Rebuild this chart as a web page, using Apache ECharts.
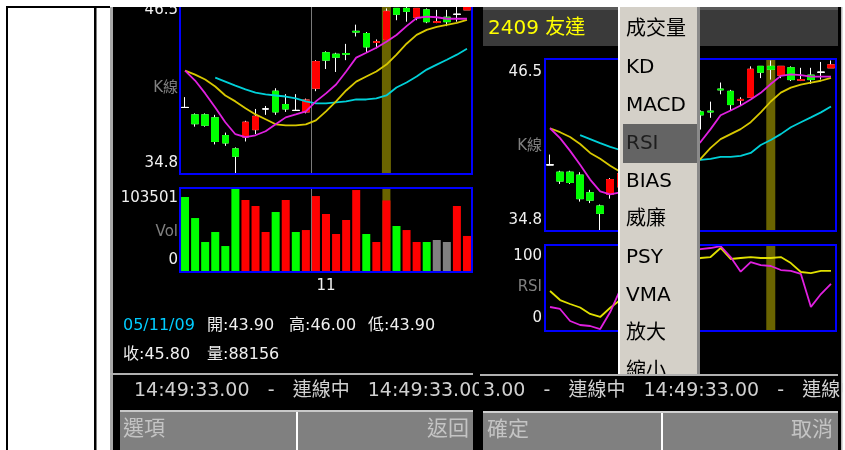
<!DOCTYPE html>
<html><head><meta charset="utf-8">
<script src="https://cdn.jsdelivr.net/npm/echarts@6/dist/echarts.min.js"></script>
<style>html,body{margin:0;padding:0;background:#fff}#c{width:845px;height:450px}</style>
</head><body><div id="c"></div>
<script>
// ---------- data ----------
const dates = ['05/10/12','05/10/13','05/10/14','05/10/17','05/10/18','05/10/19','05/10/20','05/10/21','05/10/24','05/10/25','05/10/26','05/10/27','05/10/28','05/10/31','05/11/01','05/11/02','05/11/03','05/11/04','05/11/07','05/11/08','05/11/09','05/11/10','05/11/11','05/11/14','05/11/15','05/11/16','05/11/17','05/11/18','05/11/21'];
const opens  = [39.3,38.8,38.8,38.6,37.4,36.5,37.3,37.8,39.2,40.4,39.5,39.1,39.0,40.6,43.0,42.9,42.95,44.45,44.3,43.7,43.9,46.0,46.0,45.4,45.9,45.05,45.4,45.6,45.9];
const closes = [39.3,38.2,38.1,37.0,36.9,36.0,38.3,38.7,39.2,39.0,39.2,39.1,39.8,42.4,42.5,42.7,42.9,44.4,43.4,43.75,45.8,45.6,45.8,46.0,45.1,45.1,45.1,45.6,46.1];
const lows   = [39.3,38.0,38.0,36.8,36.7,34.8,37.0,37.5,38.8,38.8,39.0,39.1,38.9,40.4,41.9,41.7,42.5,44.1,43.0,43.3,43.9,45.2,45.1,45.2,45.0,45.0,44.8,45.1,45.9];
const highs  = [40.0,38.9,38.9,38.8,37.6,36.6,38.4,39.2,39.4,40.6,40.2,40.2,39.9,42.5,43.1,43.0,43.6,44.9,44.4,43.9,46.0,46.0,46.4,46.0,46.0,45.9,45.9,46.3,46.4];
const volumes = [92400,66500,37000,49300,32000,103501,88700,81300,49300,73900,88700,49300,51700,93600,71500,46800,64100,101000,46800,37000,88156,56700,51700,37000,37000,39400,37000,81300,44400];
const prevClose = 39.8;
const ma5  = [41.79,41.12,40.25,39.30,38.30,37.49,37.29,37.42,37.69,38.16,38.63,38.83,39.04,39.71,40.25,40.85,41.73,42.67,43.0,43.34,43.75,44.2,44.8,45.35,45.45,45.4,45.3,45.3,45.3];
const ma10 = [41.79,41.52,41.19,40.72,40.11,39.71,39.24,38.83,38.50,38.16,38.09,38.09,38.16,38.43,39.04,39.71,40.45,41.05,41.39,41.73,42.20,42.87,43.61,44.21,44.55,44.75,44.89,45.02,45.22];
const ma20 = [null,null,null,41.32,41.05,40.78,40.52,40.31,40.18,40.11,40.04,39.91,39.71,39.57,39.57,39.64,39.71,39.84,39.84,39.91,40.11,40.65,40.99,41.39,41.86,42.20,42.53,42.87,43.27];
const rsi6  = [27.9,25.6,11.6,7.0,5.8,2.3,22,48,62,55,60,58,70,88,90,95.3,96.5,98.8,86,69,80.2,76.7,75.6,70.9,69.8,66.3,28,43,54.7];
const rsi12 = [46.5,36.0,31.4,27.3,19.8,16.3,27,36,45,48,52,51,58,70,78,84.9,86,96.5,83.7,84.9,86,84.9,84.9,86,79,68.6,67.4,69.8,69.8];
const priceMin = 34.8, priceMax = 46.5;
const priceTickLabels = ['46.5','34.8'];
const volMax = 103501;
const volTickLabels = ['103501','0'];
const rsiMin = 0, rsiMax = 100;
const rsiTickLabels = ['100','0'];
const leftCursor = 20, rightCursor = 22;
const menuItems = ['成交量','KD','MACD','RSI','BIAS','威廉','PSY','VMA','放大','縮小'];
const menuSelected = 3;
const stockTitle = '2409 友達';
const statusTime = '14:49:33.00', statusState = '連線中';
const leftButtons = ['選項','返回'], rightButtons = ['確定','取消'];

// ---------- chart ----------
const FONT = '"DejaVu Sans", "Noto Sans CJK TC", sans-serif';
const chart = echarts.init(document.getElementById('c'));
const wickData = dates.map((d,i)=>[opens[i],closes[i],lows[i],highs[i]]);
const bodyData = dates.map((d,i)=>[opens[i],closes[i],Math.min(opens[i],closes[i]),Math.max(opens[i],closes[i])]);
const cursorData = (idx, top) => dates.map((d,i)=> i===idx ? top : '-');
const monthStart = dates.findIndex(d => d.slice(3,5) !== dates[0].slice(3,5));
const volColor = p => { const i=p.dataIndex; const pc = i===0?prevClose:closes[i-1];
  return closes[i]>pc?'#ff0000':(closes[i]<pc?'#00ff00':'#808080'); };

const OLIVE = '#6a6400';
function xCat(g, extra) {
  return Object.assign({type:'category', gridIndex:g, data:dates, boundaryGap:true,
    axisLine:{show:false}, axisTick:{show:false}, axisLabel:{show:false}, splitLine:{show:false}}, extra||{});
}
const sepLine = {show:true, interval:(i)=> i===0 || i===monthStart-1, showMinLine:false, showMaxLine:false,
  lineStyle:{color:'#7a7a7a', width:1}};
function yVal(g, min, max) { return {type:'value', gridIndex:g, min, max, show:false, startValue:min}; }
const gridStyle = {show:true, borderColor:'#0000ff', borderWidth:2, backgroundColor:'rgba(0,0,0,0)', z:10, containLabel:false};

function priceSeries(ax, cursor) {
  return [
    {type:'bar', xAxisIndex:ax, yAxisIndex:ax, data:cursorData(cursor, priceMax), barWidth:9, itemStyle:{color:OLIVE}, z:1, silent:true},
    {type:'candlestick', xAxisIndex:ax, yAxisIndex:ax, data:wickData, barWidth:7, z:3,
      itemStyle:{color:'rgba(0,0,0,0)', color0:'rgba(0,0,0,0)', borderColor:'#ffffff', borderColor0:'#ffffff', borderColorDoji:'#ffffff', borderWidth:1}},
    {type:'candlestick', xAxisIndex:ax, yAxisIndex:ax, data:bodyData, barWidth:7, z:4,
      itemStyle:{color:'#ff0000', color0:'#00ff00', borderColor:'#ff0000', borderColor0:'#00ff00', borderColorDoji:'#ffffff', borderWidth:1}},
    {type:'line', xAxisIndex:ax, yAxisIndex:ax, data:ma20, symbol:'none', lineStyle:{color:'#00d0d8', width:1.8}, z:5},
    {type:'line', xAxisIndex:ax, yAxisIndex:ax, data:ma10, symbol:'none', lineStyle:{color:'#d8c800', width:1.8}, z:5},
    {type:'line', xAxisIndex:ax, yAxisIndex:ax, data:ma5, symbol:'none', lineStyle:{color:'#e020e0', width:1.8}, z:6}
  ];
}

// graphic helpers
const G = [];
const R = (x,y,w,h,fill,z) => G.push({type:'rect', shape:{x,y,width:w,height:h}, style:{fill}, z, silent:true});
const T = (x,y,text,size,fill,z,align) => G.push({type:'text', x, y, z, silent:true,
  style:{text, font: size+'px '+FONT, fill, align:align||'left', verticalAlign:'middle', textAlign:align||'left', textVerticalAlign:'middle'}});

// page / frames
R(6,6,104,2,'#000',101);
R(6,6,2,444,'#000',101);
R(94,6,2.5,444,'#000',101);
R(110,7,3,443,'#a8a8a8',-10);
R(113,7,366,443,'#000',-10);
R(479,7,362,443,'#000',-9);
R(841,0,1.5,450,'#b8b8b8',61);
R(842.5,0,3,450,'#fff',60);
R(0,0,845,6,'#fff',100);
R(110,6,735,1,'#fff',100);

// left screen labels
T(178,10,priceTickLabels[0],15,'#f0f0f0',5,'right');
T(178,88,'K線',15,'#808080',5,'right');
T(178,163,priceTickLabels[1],15,'#f0f0f0',5,'right');
T(178,198,volTickLabels[0],15,'#f0f0f0',5,'right');
T(178,232,'Vol',15,'#808080',5,'right');
T(178,260,volTickLabels[1],15,'#f0f0f0',5,'right');
const hl = leftCursor;
T(123,326,dates[hl],16,'#00ccff',5);
T(207,326,'開:'+opens[hl].toFixed(2),16,'#f0f0f0',5);
T(289,326,'高:'+highs[hl].toFixed(2),16,'#f0f0f0',5);
T(368,326,'低:'+lows[hl].toFixed(2),16,'#f0f0f0',5);
T(123,355,'收:'+closes[hl].toFixed(2),16,'#f0f0f0',5);
T(207,355,'量:'+volumes[hl],16,'#f0f0f0',5);
const marquee = (statusTime+'   -   '+statusState+'   ').repeat(3);
R(110,373,363,2,'#b0b0b0',5);
T(134,391,marquee,19,'#d0d0d0',-9.5);
R(120,410,353,40,'#808080',5);
R(120,410,353,2,'#c8c8c8',5.1);
R(296,412,2,38,'#ffffff',5.1);
T(123,430,leftButtons[0],21,'#c4c4c4',5.2);
T(469,430,leftButtons[1],21,'#c4c4c4',5.2,'right');

// right screen
R(483,7,355,3,'#5a5a5a',5);
R(483,10,355,36,'#3a3a3a',5);
T(488,29,stockTitle,20,'#ffff00',5.1);
T(542,72,priceTickLabels[0],15,'#f0f0f0',5,'right');
T(542,146,'K線',15,'#808080',5,'right');
T(542,220,priceTickLabels[1],15,'#f0f0f0',5,'right');
T(542,256,rsiTickLabels[0],15,'#f0f0f0',5,'right');
T(542,287,'RSI',15,'#808080',5,'right');
T(542,318,rsiTickLabels[1],15,'#f0f0f0',5,'right');
// menu
R(618,7,82,368,'#d4d0c8',50);
R(618,7,2,368,'#ffffff',50.5);
R(697,7,3,368,'#8a8a8a',50.5);
R(623,124,74,39,'#646464',50.6);
menuItems.forEach((m,i)=> T(626, 29.5+38*i, m, 20, i===menuSelected?'#1e1e1e':'#000000', 51));
R(614,376,90,34,'#000',52);
R(480,374,358,2,'#b0b0b0',53);
T(483,391,marquee.slice(statusTime.length-4),19,'#d0d0d0',53);
R(483,411,355,39,'#808080',53);
R(483,411,355,2,'#d0d0d0',53.1);
R(661,413,2,37,'#ffffff',53.1);
T(487,431,rightButtons[0],21,'#c4c4c4',53.2);
T(833,431,rightButtons[1],21,'#c4c4c4',53.2,'right');

const option = {
  animation:false,
  backgroundColor:'#ffffff',
  grid:[
    Object.assign({left:180, width:292, top:1, height:173}, gridStyle),
    Object.assign({left:180, width:292, top:188, height:84}, gridStyle),
    Object.assign({left:545, width:291, top:59, height:172}, gridStyle),
    Object.assign({left:545, width:291, top:245, height:86}, gridStyle)
  ],
  xAxis:[
    xCat(0,{splitLine:sepLine}),
    xCat(1,{splitLine:sepLine, axisLabel:{show:true, interval:(i)=> i===monthStart, formatter:v=>v.slice(3,5),
      color:'#f0f0f0', fontSize:15, fontFamily:FONT, margin:7}}),
    xCat(2),
    xCat(3)
  ],
  yAxis:[ yVal(0,priceMin,priceMax), yVal(1,0,volMax), yVal(2,priceMin,priceMax), yVal(3,rsiMin,rsiMax) ],
  series:[
    ...priceSeries(0, leftCursor),
    {type:'bar', xAxisIndex:1, yAxisIndex:1, data:cursorData(leftCursor, volMax), barWidth:8, barGap:'-100%', itemStyle:{color:OLIVE}, z:1, silent:true},
    {type:'bar', xAxisIndex:1, yAxisIndex:1, data:volumes, barWidth:8, barGap:'-100%', itemStyle:{color:volColor}, z:2},
    ...priceSeries(2, rightCursor),
    {type:'bar', xAxisIndex:3, yAxisIndex:3, data:cursorData(rightCursor, rsiMax), barWidth:9, itemStyle:{color:OLIVE}, z:1, silent:true},
    {type:'line', xAxisIndex:3, yAxisIndex:3, data:rsi12, symbol:'none', lineStyle:{color:'#e0e000', width:1.8}, z:5},
    {type:'line', xAxisIndex:3, yAxisIndex:3, data:rsi6, symbol:'none', lineStyle:{color:'#e020e0', width:1.8}, z:6}
  ],
  graphic:{elements:G}
};
chart.setOption(option);
</script></body></html>
